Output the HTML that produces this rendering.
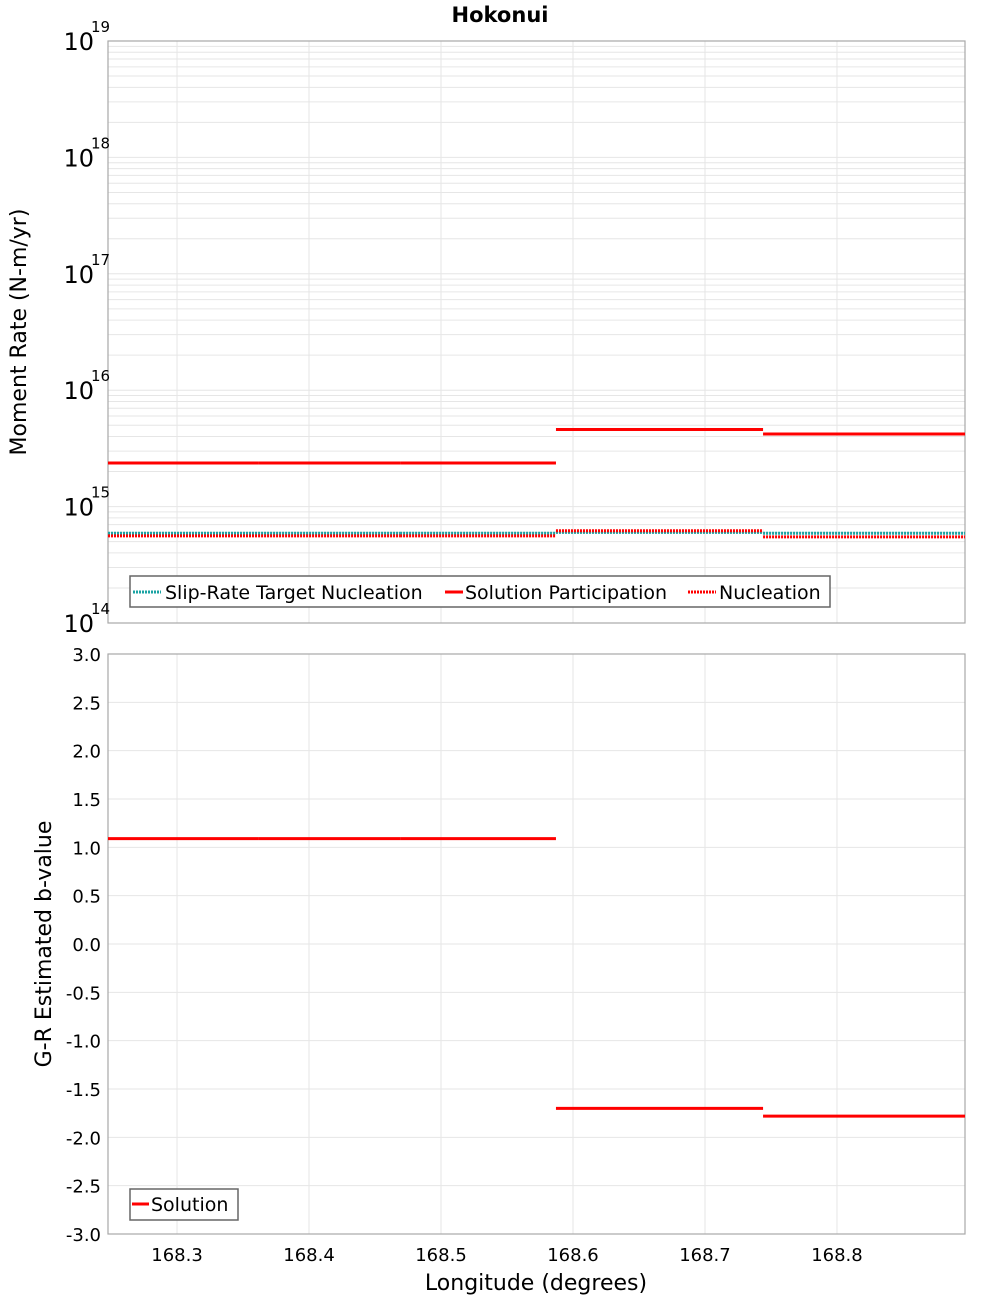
<!DOCTYPE html>
<html><head><meta charset="utf-8"><style>
body{margin:0;background:#fff;}
svg{display:block;font-family:"DejaVu Sans","Liberation Sans",sans-serif;}
</style></head><body>
<svg id="chart" width="1000" height="1300" xmlns="http://www.w3.org/2000/svg">
<text x="500" y="22" text-anchor="middle" font-size="21" font-weight="bold">Hokonui</text>
<g id="topPlot"></g>
<g id="botPlot"></g>
<text x="26" y="332" font-size="22" text-anchor="middle" transform="rotate(-90 26 332)">Moment Rate (N-m/yr)</text>
<text x="51" y="944" font-size="22" text-anchor="middle" transform="rotate(-90 51 944)">G-R Estimated b-value</text>
<text x="536" y="1290" font-size="22" text-anchor="middle">Longitude (degrees)</text>
</svg>
<script>
const segBounds=[168.2477,168.3614,168.469,168.5871,168.744,168.897];
const participation=[2.37e15,2.37e15,2.37e15,4.6e15,4.2e15];
const targetNucl=[5.9e14,5.9e14,5.9e14,6.0e14,5.9e14];
const nucleation=[5.6e14,5.6e14,5.6e14,6.2e14,5.5e14];
const bValues=[1.09,1.09,1.09,-1.70,-1.78];
const xTicks=[168.3,168.4,168.5,168.6,168.7,168.8];
const decades=[14,15,16,17,18,19];
const bTicks=[3,2.5,2,1.5,1,0.5,0,-0.5,-1,-1.5,-2,-2.5,-3];

const NS="http://www.w3.org/2000/svg";
const L=108,R=965;
const xS=v=>L+(v-168.2477)/(168.897-168.2477)*(R-L);
const T1=41,B1=623,T2=654,B2=1234;
const yLog=v=>B1-(Math.log10(v)-14)/5*(B1-T1);
const yB=v=>T2+(3-v)/6*(B2-T2);
function mk(p,tag,at,txt){const e=document.createElementNS(NS,tag);for(const k in at)e.setAttribute(k,at[k]);if(txt!==undefined)e.textContent=txt;p.appendChild(e);return e;}
const topG=document.getElementById('topPlot'),botG=document.getElementById('botPlot');

for(const d of decades){if(d<19){for(let m=1;m<=9;m++){const y=yLog(m*Math.pow(10,d));
const g=mk(topG,'line',{x1:L,x2:R,y1:y,y2:y,stroke:'#e6e6e6','stroke-width':1});

}}}
for(const t of xTicks){for(const [p,a,b] of [[topG,T1,B1],[botG,T2,B2]]){const g=mk(p,'line',{x1:xS(t),x2:xS(t),y1:a,y2:b,stroke:'#e6e6e6','stroke-width':1});

}}
for(const t of bTicks){const g=mk(botG,'line',{x1:L,x2:R,y1:yB(t),y2:yB(t),stroke:'#e6e6e6','stroke-width':1});

}

const f1=mk(topG,'rect',{x:L,y:T1,width:R-L,height:B1-T1,fill:'none',stroke:'#a8a8a8','stroke-width':1.2});


const f2=mk(botG,'rect',{x:L,y:T2,width:R-L,height:B2-T2,fill:'none',stroke:'#a8a8a8','stroke-width':1.2});



for(const d of decades){const y=yLog(Math.pow(10,d));
const t=mk(topG,'text',{x:94,y:y+9,'font-size':24,'text-anchor':'end'},'10');


const s=mk(topG,'text',{x:91,y:y-9,'font-size':15},String(d));

}
for(const t of bTicks){const e=mk(botG,'text',{x:101,y:yB(t)+7,'font-size':18,'text-anchor':'end'},t.toFixed(1));

}
for(const t of xTicks){const e=mk(botG,'text',{x:xS(t),y:1261,'font-size':18,'text-anchor':'middle'},t.toFixed(1));

}

for(let i=0;i<participation.length;i++){
const x1=xS(segBounds[i]),x2=xS(segBounds[i+1]);
const a=mk(topG,'line',{x1:x1,x2:x2,y1:yLog(targetNucl[i]),y2:yLog(targetNucl[i]),stroke:'#1aa3a3','stroke-width':3,'stroke-dasharray':'2,1'});


const b=mk(topG,'line',{x1:x1,x2:x2,y1:yLog(nucleation[i]),y2:yLog(nucleation[i]),stroke:'#ff0000','stroke-width':3,'stroke-dasharray':'2,1'});


const c=mk(topG,'line',{x1:x1,x2:x2,y1:yLog(participation[i]),y2:yLog(participation[i]),stroke:'#ff0000','stroke-width':3});


const d=mk(botG,'line',{x1:x1,x2:x2,y1:yB(bValues[i]),y2:yB(bValues[i]),stroke:'#ff0000','stroke-width':3});

}

const lg=mk(topG,'g',{});


mk(lg,'rect',{x:130,y:576,width:700,height:31,fill:'#fff',stroke:'#666','stroke-width':1.5});
mk(lg,'line',{x1:133,x2:161,y1:592,y2:592,stroke:'#1aa3a3','stroke-width':3,'stroke-dasharray':'2,1'});
mk(lg,'text',{x:165,y:599,'font-size':19},'Slip-Rate Target Nucleation');
mk(lg,'line',{x1:445,x2:463,y1:592,y2:592,stroke:'#ff0000','stroke-width':3});
mk(lg,'text',{x:465,y:599,'font-size':19},'Solution Participation');
mk(lg,'line',{x1:688,x2:716,y1:592,y2:592,stroke:'#ff0000','stroke-width':3,'stroke-dasharray':'2,1'});
mk(lg,'text',{x:719,y:599,'font-size':19},'Nucleation');
const lg2=mk(botG,'g',{});


mk(lg2,'rect',{x:130,y:1189,width:108,height:31,fill:'#fff',stroke:'#666','stroke-width':1.5});
mk(lg2,'line',{x1:132,x2:149,y1:1204,y2:1204,stroke:'#ff0000','stroke-width':3});
mk(lg2,'text',{x:151,y:1211,'font-size':19},'Solution');
</script>
</body></html>
